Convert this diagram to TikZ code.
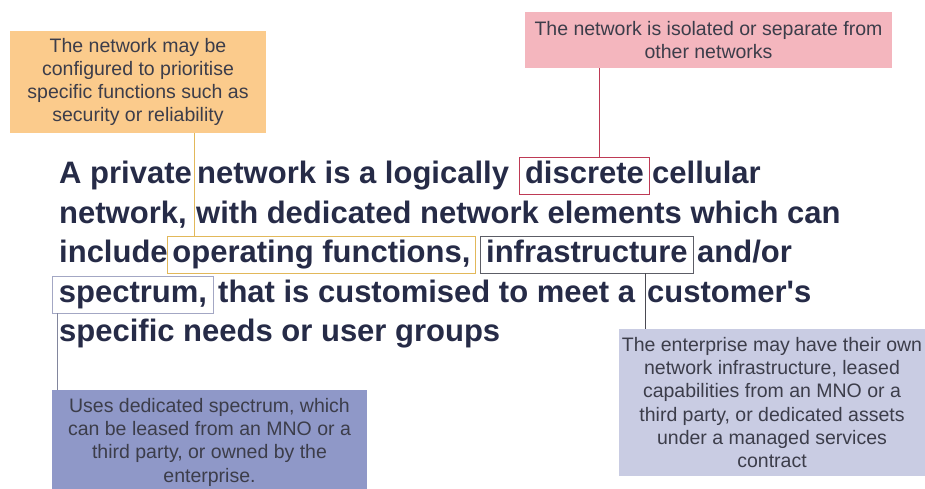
\documentclass[tikz,border=0pt]{standalone}
\usepackage{fontspec}
\setmainfont{Liberation Sans}
\usepackage{tikz}
\definecolor{inktext}{HTML}{262B47}
\definecolor{notetext}{HTML}{3C3D4A}
\definecolor{prioFill}{HTML}{FBCB8C}
\definecolor{prioLine}{HTML}{E2B85A}
\definecolor{isolFill}{HTML}{F4B6BE}
\definecolor{isolLine}{HTML}{BE3A55}
\definecolor{infraFill}{HTML}{C9CCE3}
\definecolor{infraLine}{HTML}{5C5D66}
\definecolor{specFill}{HTML}{8F98C8}
\definecolor{specLine}{HTML}{A3A7C4}
\tikzstyle{lead} = [anchor=base west, inner sep=0, text=inktext, font=\bfseries\fontsize{31}{39}\selectfont]
\tikzstyle{wordbox} = [lead, line width=0.9pt, text height=22pt, text depth=7pt, inner ysep=4pt, inner xsep=0pt]
\tikzstyle{note} = [align=center, inner sep=0, text=notetext, font=\fontsize{19.5}{23.3}\selectfont]

\begin{document}
\begin{tikzpicture}[x=1pt, y=-1pt]
  \useasboundingbox (0,0) rectangle (925,488);

  % callouts
  \node[note, fill=prioFill, minimum width=256pt, minimum height=102pt] (prio) at (138,82)
    {The network may be\\configured to prioritise\\specific functions such as\\security or reliability};
  \node[note, fill=isolFill, minimum width=367pt, minimum height=56pt] (isol) at (708.5,40)
    {The network is isolated or separate from\\other networks};
  \node[note, fill=infraFill, minimum width=306pt, minimum height=147pt] (infranote) at (772,402.5)
    {The enterprise may have their own\\network infrastructure, leased\\capabilities from an MNO or a\\third party, or dedicated assets\\under a managed services\\contract};
  \node[note, fill=specFill, minimum width=315pt, minimum height=104pt] (specnote) at (209.5,442)
    {Uses dedicated spectrum, which\\can be leased from an MNO or a\\third party, or owned by the\\enterprise.};

  % the statement, line by line
  \node[lead] (l1a) at (59,183) {A private};
  \node[lead] (l1b) at (197,183) {network is a logically};
  \node[wordbox, draw=isolLine, minimum width=130pt] (discrete) at (519,183) {discrete};
  \node[lead] (l1c) at (652,183) {cellular};

  \node[lead] (l2a) at (59,223) {network,};
  \node[lead] (l2b) at (196,223) {with dedicated network elements which can};

  \node[lead] (l3a) at (59,262) {include};
  \node[wordbox, draw=prioLine, minimum width=308pt] (opfunc) at (167,262) {operating functions,};
  \node[wordbox, draw=infraLine, minimum width=213pt] (infra) at (480,262) {infrastructure};
  \node[lead] (l3b) at (697,262) {and/or};

  \node[wordbox, draw=specLine, minimum width=161pt] (spectrum) at (52,302) {spectrum,};
  \node[lead] (l4a) at (218,302) {that is customised to meet a};
  \node[lead] (l4b) at (647,302) {customer\textquotesingle s};

  \node[lead] (l5a) at (59,341) {specific needs or user groups};

  % leader lines
  \coordinate (priotap) at ([xshift=27pt]opfunc.north west);
  \coordinate (isoltap) at ([xshift=80pt]discrete.north west);
  \coordinate (infratap) at ([xshift=165pt]infra.south west);
  \coordinate (spectap) at ([xshift=5pt]spectrum.south west);
  \draw[prioLine, line width=0.9pt] (priotap) -- (priotap |- prio.south);
  \draw[isolLine, line width=0.9pt] (isoltap) -- (isoltap |- isol.south);
  \draw[infraLine!80!black, line width=0.9pt] (infratap) -- (infratap |- infranote.north);
  \draw[specLine!80!black, line width=0.9pt] (spectap) -- (spectap |- specnote.north);
\end{tikzpicture}
\end{document}
